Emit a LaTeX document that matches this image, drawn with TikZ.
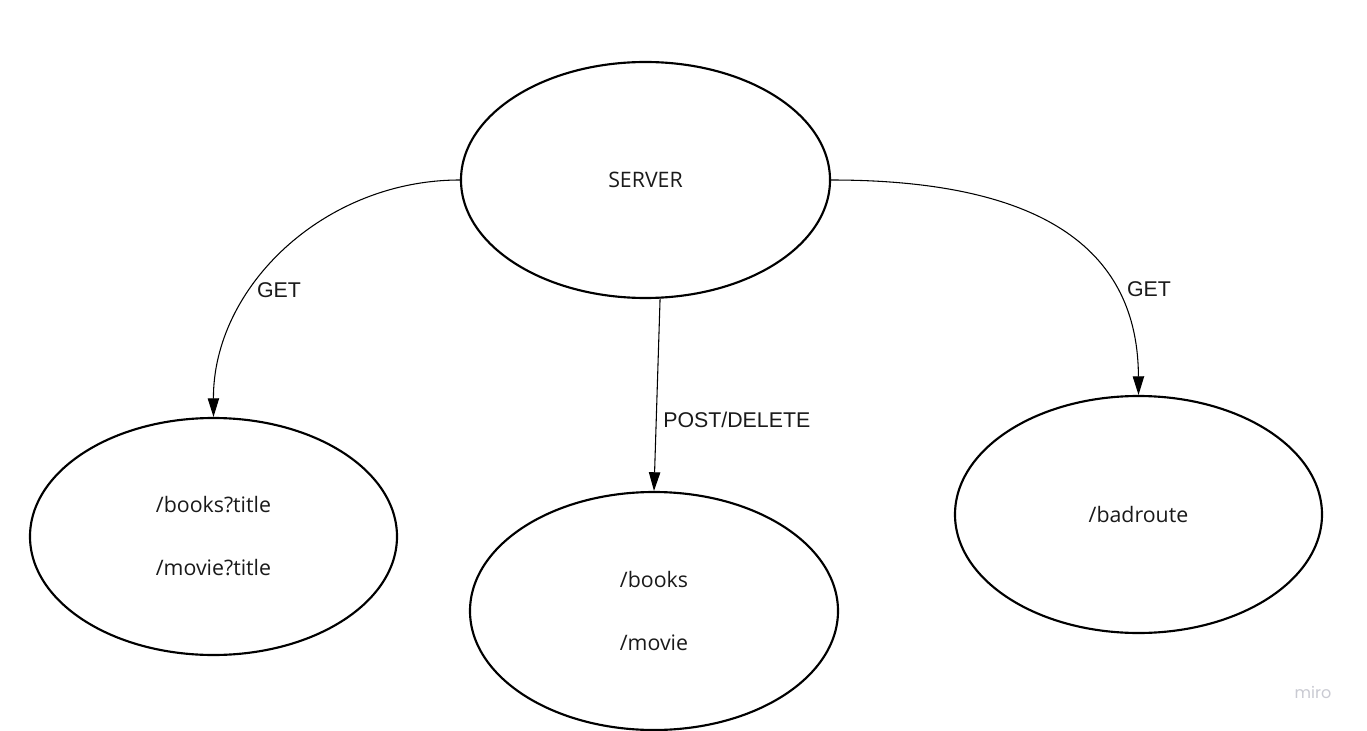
\documentclass[tikz,border=0pt]{standalone}
\usepackage{fontspec}
\setmainfont{Liberation Sans}
\newfontfamily\nodefont{Open Sans}
\newfontfamily\mirofont{Poppins}
\usetikzlibrary{shapes.geometric,arrows.meta}
\definecolor{inkc}{HTML}{1A1A1A}
\definecolor{miroc}{HTML}{C9CAD2}
\begin{document}
\begin{tikzpicture}[x=0.75pt,y=-0.75pt,
  bubble/.style={ellipse,draw=black,line width=1.6pt,inner sep=0pt,align=center,text=inkc,font=\nodefont\fontsize{16pt}{19pt}\selectfont},
  conn/.style={draw=black,line width=0.8pt,-{Triangle[length=14pt,width=8.5pt]}},
  lbl/.style={text=inkc,font=\fontsize{16pt}{19pt}\selectfont,inner sep=0pt}]
\useasboundingbox (0,0) rectangle (1367,731);
\fill[white] (0,0) rectangle (1367,731);
\node[bubble,minimum width=276.75pt,minimum height=177pt] (server) at (645.5,180) {SERVER};
\node[bubble,minimum width=275.25pt,minimum height=177.75pt] (left) at (213.5,536.5) {/books?title\\[28.25pt]/movie?title};
\node[bubble,minimum width=276pt,minimum height=178.5pt] (mid) at (654,611) {/books\\[28.25pt]/movie};
\node[bubble,minimum width=275.25pt,minimum height=177.75pt] (right) at (1138.5,514.5) {/badroute};
\draw[conn] (server.west) .. controls (324,180) and (213,287) .. (left.north);
\draw[conn] (server.-83) -- (mid.north);
\draw[conn] (server.east) .. controls (1062,180) and (1138,263) .. (right.north);
\node[lbl] (g1) at (279,290) {GET};
\node[lbl,anchor=west] (pd) at (663,420) {POST/DELETE};
\node[lbl] (g2) at (1149,289) {GET};
\node[text=miroc,inner sep=0pt,font=\mirofont\fontsize{12pt}{14pt}\selectfont] (miro) at (1313,692) {miro};
\end{tikzpicture}
\end{document}
